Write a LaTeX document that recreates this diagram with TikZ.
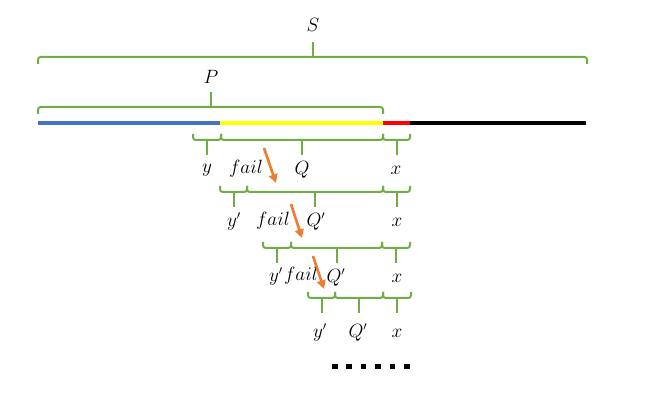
\documentclass[tikz,border=0pt]{standalone}
\usepackage{amsmath}
\usepackage{tikz}
\usetikzlibrary{arrows.meta}
\definecolor{brgreen}{RGB}{112,173,71}
\definecolor{segblue}{RGB}{68,114,196}
\definecolor{segyellow}{RGB}{255,255,0}
\definecolor{segred}{RGB}{255,0,0}
\definecolor{arrorange}{RGB}{237,125,49}

% brace opening upwards, tick hanging down (x1, x2, y)
\newcommand{\lowbrace}[3]{%
  \draw[brace] (#1,#3-6) -- (#1,#3) -- (#2,#3) -- (#2,#3-6);
  \draw[brace] ({(#1+#2)/2},#3) -- ({(#1+#2)/2},#3+15);
}
% brace opening downwards, tick pointing up (x1, x2, y)
\newcommand{\highbrace}[3]{%
  \draw[brace] (#1,#3+7) -- (#1,#3) -- (#2,#3) -- (#2,#3+7);
  \draw[brace] ({(#1+#2)/2},#3) -- ({(#1+#2)/2},#3-15);
}

\begin{document}
\begin{tikzpicture}[
  x=0.75pt, y=-0.75pt,
  font=\fontsize{13.5}{16}\selectfont,
  brace/.style={draw=brgreen, line width=1.5pt, rounded corners=2pt},
  seg/.style={line width=2.4pt},
  lbl/.style={inner sep=1pt},
  shiftarr/.style={-{Triangle[length=6.5pt,width=6.5pt]}, draw=arrorange, line width=2pt}
]
  \useasboundingbox (0,0) rectangle (650,413);

  % =============================================================
  % String S and prefix P
  % =============================================================
  \draw[seg, segblue]   (38,123)  -- (220,123);
  \draw[seg, segyellow] (220,123) -- (383,123);
  \draw[seg, segred]    (383,123) -- (410,123);
  \draw[seg, black]     (410,123) -- (586,123);

  \highbrace{38}{587}{57}
  \node[lbl] (lS) at (313,25) {$S$};
  \highbrace{38}{383}{107}
  \node[lbl] (lP) at (211,77) {$P$};

  % =============================================================
  % Shifted windows
  % =============================================================
  \foreach \y/\a/\b/\c/\d in {140/193/221/383/410, 192/220/247/383/410,
                              248/263/291/382/410, 298/308/335/383/411}{
    \lowbrace{\a}{\b}{\y}
    \lowbrace{\b}{\c}{\y}
    \lowbrace{\c}{\d}{\y}
  }

  % row 1
  \node[lbl] (y1) at (207,170) {$y$};
  \node[lbl] (f1) at (246,169) {$fail$};
  \node[lbl] (q1) at (302,170) {$Q$};
  \node[lbl] (x1) at (396,170) {$x$};
  % row 2
  \node[lbl] (y2) at (234,222) {$y'$};
  \node[lbl] (f2) at (273,221) {$fail$};
  \node[lbl] (q2) at (316,222) {$Q'$};
  \node[lbl] (x2) at (397,222) {$x$};
  % row 3
  \node[lbl] (y3) at (276,277) {$y'$};
  \node[lbl] (f3) at (301,276) {$fail$};
  \node[lbl] (q3) at (336,278) {$Q'$};
  \node[lbl] (x3) at (397,278) {$x$};
  % row 4
  \node[lbl] (y4) at (320,333) {$y'$};
  \node[lbl] (q4) at (358,333) {$Q'$};
  \node[lbl] (x4) at (397,333) {$x$};

  % shift arrows
  \coordinate (a1s) at (264,148); \coordinate (a1e) at (276,183);
  \coordinate (a2s) at (291,204); \coordinate (a2e) at (302,238);
  \coordinate (a3s) at (313,256); \coordinate (a3e) at (324,289);
  \draw[shiftarr] (a1s) -- (a1e);
  \draw[shiftarr] (a2s) -- (a2e);
  \draw[shiftarr] (a3s) -- (a3e);

  % and so on
  \foreach \i in {0,...,5}{
    \fill (332+14.4*\i,364) rectangle ++(5.5,5.5);
  }
\end{tikzpicture}
\end{document}
